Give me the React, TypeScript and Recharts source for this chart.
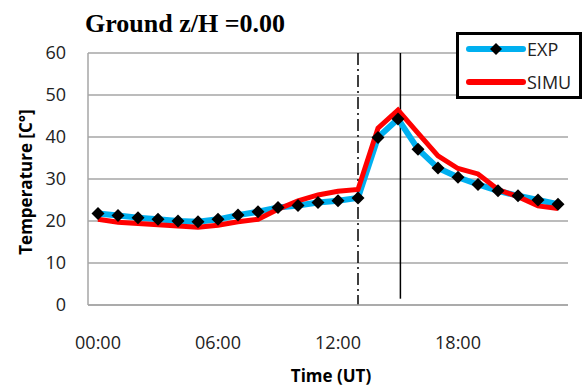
import { LineChart, Line, XAxis, YAxis, CartesianGrid, ReferenceLine } from 'recharts';

const hours = [0, 1, 2, 3, 4, 5, 6, 7, 8, 9, 10, 11, 12, 13, 14, 15, 16, 17, 18, 19, 20, 21, 22, 23];
const expTemp = [21.8, 21.3, 20.8, 20.4, 20.0, 19.8, 20.4, 21.4, 22.2, 23.2, 23.7, 24.4, 24.8, 25.5, 39.9, 44.3, 37.1, 32.6, 30.4, 28.7, 27.2, 26.0, 25.0, 24.0];
const simuTemp = [20.4, 19.7, 19.4, 19.1, 18.8, 18.5, 19.0, 19.8, 20.4, 22.8, 24.8, 26.2, 27.1, 27.5, 42.1, 46.4, 40.9, 35.5, 32.5, 31.2, 27.5, 25.8, 23.6, 23.0];
const xTicks = [0, 6, 12, 18];
const yTicks = [0, 10, 20, 30, 40, 50, 60];
const dashDotHour = 13;
const solidHour = 15.12;

const data = hours.map((h, i) => ({ h, exp: expTemp[i], simu: simuTemp[i] }));

const EXP_BLUE = '#00B0F0';
const SIMU_RED = '#FF0000';
const GRID = '#A6A6A6';
const SANS = '"Open Sans", sans-serif';

function fmtHour(h: number) {
  return String(h).padStart(2, '0') + ':00';
}

function Diamond(props: any) {
  const { cx, cy } = props;
  if (cx == null || cy == null) return null;
  const r = 6.5;
  return (
    <polygon
      points={`${cx},${cy - r} ${cx + r},${cy} ${cx},${cy + r} ${cx - r},${cy}`}
      fill="#000"
    />
  );
}

function LegendBox() {
  return (
    <div
      style={{
        position: 'absolute',
        left: 456,
        top: 32,
        width: 120,
        height: 61,
        border: '3px solid #000',
        background: '#fff',
        fontFamily: SANS,
        fontSize: 18,
      }}
    >
      <svg width={120} height={61} style={{ position: 'absolute', left: 0, top: 0 }}>
        <line x1={10} x2={64} y1={14} y2={14} stroke={EXP_BLUE} strokeWidth={6} strokeLinecap="round" />
        <polygon points="37,8 43,14 37,20 31,14" fill="#000" />
        <text x={68} y={20.5} fontSize={18} fontFamily={SANS} fill="#222">EXP</text>
        <line x1={10} x2={64} y1={47} y2={47} stroke={SIMU_RED} strokeWidth={6} strokeLinecap="round" />
        <text x={68} y={53.5} fontSize={18} fontFamily={SANS} fill="#222">SIMU</text>
      </svg>
    </div>
  );
}

export default function App() {
  return (
    <div style={{ position: 'absolute', left: 0, top: 0, width: 583, height: 388, background: '#fff' }}>
      <LineChart
        width={583}
        height={388}
        data={data}
        margin={{ top: 53, right: 15, left: 0, bottom: 0 }}
      >
        <CartesianGrid vertical={false} stroke={GRID} strokeWidth={1.5} />
        <XAxis
          dataKey="h"
          type="number"
          domain={[-0.5, 23.5]}
          ticks={xTicks}
          tickFormatter={fmtHour}
          height={83}
          tickSize={0}
          tickMargin={31}
          axisLine={{ stroke: GRID, strokeWidth: 1.5 }}
          tickLine={false}
          tick={{ fontSize: 18, fontFamily: SANS, fill: '#222' }}
        />
        <YAxis
          domain={[0, 60]}
          ticks={yTicks}
          width={88}
          tickSize={0}
          tickMargin={22}
          axisLine={{ stroke: GRID, strokeWidth: 1.5 }}
          tickLine={false}
          tick={{ fontSize: 18, fontFamily: SANS, fill: '#222' }}
        />
        <ReferenceLine
          segment={[{ x: dashDotHour, y: 60 }, { x: dashDotHour, y: 0 }]}
          stroke="#000"
          strokeWidth={1.5}
          strokeDasharray="12 4 2 4"
        />
        <ReferenceLine
          segment={[{ x: solidHour, y: 60 }, { x: solidHour, y: 1.5 }]}
          stroke="#000"
          strokeWidth={1.5}
        />
        <Line
          dataKey="exp"
          stroke={EXP_BLUE}
          strokeWidth={6}
          dot={false}
          activeDot={false}
          isAnimationActive={false}
        />
        <Line
          dataKey="simu"
          stroke={SIMU_RED}
          strokeWidth={5}
          dot={false}
          activeDot={false}
          isAnimationActive={false}
        />
        <Line
          dataKey="exp"
          stroke="none"
          dot={<Diamond />}
          activeDot={false}
          isAnimationActive={false}
        />
      </LineChart>
      <svg width={583} height={388} style={{ position: 'absolute', left: 0, top: 0, pointerEvents: 'none' }}>
        <text
          x={85}
          y={32}
          fontFamily='"Liberation Serif", "Times New Roman", serif'
          fontWeight="bold"
          fontSize={26}
          fill="#000"
        >
          Ground z/H =0.00
        </text>
        <text
          x={331}
          y={382}
          textAnchor="middle"
          fontFamily={SANS}
          fontWeight="bold"
          fontSize={17}
          fill="#000"
        >
          Time (UT)
        </text>
        <text
          x={32}
          y={182}
          textAnchor="middle"
          transform="rotate(-90 32 182)"
          fontFamily={SANS}
          fontWeight="bold"
          fontSize={17}
          fill="#000"
        >
          Temperature [C°]
        </text>
      </svg>
      <LegendBox />
    </div>
  );
}
